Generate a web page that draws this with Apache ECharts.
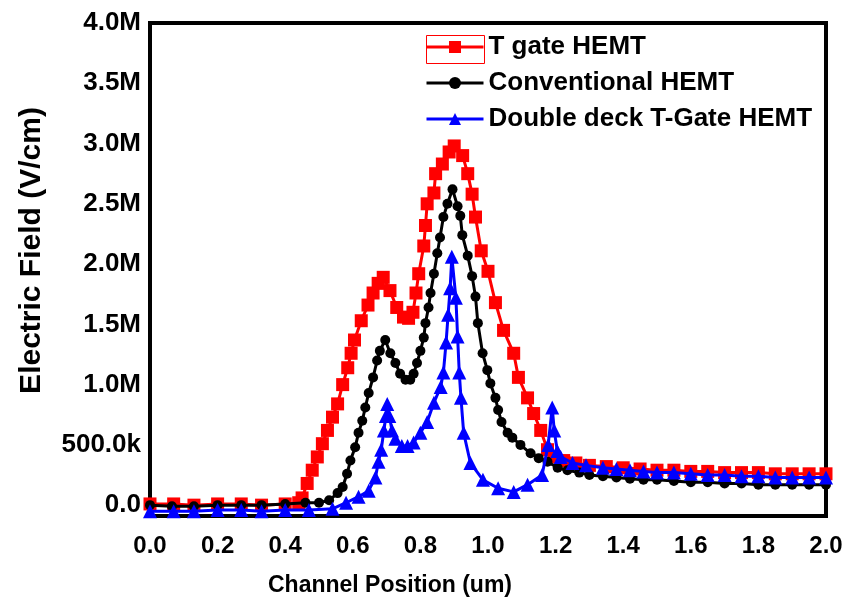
<!DOCTYPE html>
<html>
<head>
<meta charset="utf-8">
<script src="https://cdn.jsdelivr.net/npm/echarts@6/dist/echarts.min.js"></script>
<style>
  html, body { margin: 0; padding: 0; background: #fff; }
  #chart { width: 862px; height: 605px; }
</style>
</head>
<body>
<div id="chart"></div>
<script>
// Electric field along the channel (MV/cm) for three HEMT gate structures
const seriesNames = ['T gate HEMT', 'Conventional HEMT', 'Double deck T-Gate HEMT'];

// T gate HEMT
const tgateX = [0.00, 0.07, 0.13, 0.20, 0.27, 0.33, 0.40, 0.44,
  0.45, 0.465, 0.48, 0.495, 0.51, 0.525, 0.54, 0.555, 0.57, 0.585, 0.595, 0.605, 0.625, 0.645, 0.66, 0.675, 0.69,
  0.71, 0.73, 0.75, 0.765, 0.778, 0.787, 0.795, 0.81, 0.815, 0.82, 0.84, 0.845, 0.865, 0.885, 0.90,
  0.925, 0.94, 0.953, 0.963, 0.98, 1.00, 1.022, 1.046, 1.076, 1.09, 1.117, 1.135, 1.156, 1.176, 1.195, 1.224,
  1.26, 1.30, 1.35, 1.40, 1.45, 1.50, 1.55, 1.60, 1.65, 1.70, 1.75, 1.80, 1.85, 1.90, 1.95, 2.00];
const tgateE = [0.01, 0.01, 0.00, 0.01, 0.01, 0.00, 0.01, 0.02,
  0.06, 0.18, 0.29, 0.40, 0.51, 0.62, 0.73, 0.84, 1.00, 1.14, 1.26, 1.37, 1.53, 1.66, 1.76, 1.84, 1.89,
  1.78, 1.64, 1.56, 1.55, 1.60, 1.76, 1.92, 2.15, 2.32, 2.50, 2.59, 2.75, 2.83, 2.93, 2.98,
  2.90, 2.75, 2.58, 2.39, 2.11, 1.94, 1.68, 1.45, 1.26, 1.06, 0.89, 0.76, 0.62, 0.46, 0.40, 0.37,
  0.35, 0.33, 0.32, 0.31, 0.30, 0.29, 0.29, 0.28, 0.28, 0.27, 0.27, 0.27, 0.26, 0.26, 0.26, 0.26];

// Conventional HEMT
const convX = [0.00, 0.065, 0.13, 0.20, 0.27, 0.33, 0.40, 0.46, 0.50, 0.53,
  0.555, 0.57, 0.583, 0.593, 0.607, 0.617, 0.628, 0.637, 0.647, 0.66, 0.672, 0.68, 0.696,
  0.711, 0.726, 0.74, 0.756, 0.77, 0.78, 0.79, 0.80, 0.81, 0.815, 0.824, 0.83, 0.84, 0.85, 0.858, 0.868, 0.88, 0.895,
  0.91, 0.918, 0.924, 0.94, 0.953, 0.963, 0.97, 0.984, 0.998, 1.007, 1.022, 1.03, 1.04, 1.058, 1.072, 1.096, 1.126, 1.15, 1.176, 1.206, 1.235,
  1.27, 1.30, 1.34, 1.38, 1.42, 1.46, 1.50, 1.55, 1.60, 1.65, 1.70, 1.75, 1.80, 1.85, 1.90, 1.95, 2.00];
const convE = [0.00, -0.01, -0.01, 0.00, 0.00, 0.00, 0.01, 0.02, 0.02, 0.04,
  0.10, 0.15, 0.26, 0.37, 0.48, 0.60, 0.70, 0.81, 0.93, 1.06, 1.20, 1.28, 1.37,
  1.26, 1.18, 1.09, 1.04, 1.04, 1.09, 1.18, 1.28, 1.39, 1.51, 1.64, 1.76, 1.92, 2.09, 2.22, 2.39, 2.50, 2.62,
  2.48, 2.40, 2.24, 2.07, 1.90, 1.73, 1.51, 1.26, 1.12, 1.01, 0.89, 0.79, 0.69, 0.60, 0.56, 0.50, 0.43, 0.39, 0.36, 0.31, 0.29,
  0.27, 0.25, 0.24, 0.23, 0.22, 0.21, 0.21, 0.20, 0.19, 0.19, 0.18, 0.18, 0.17, 0.17, 0.17, 0.17, 0.17];

// Double deck T-Gate HEMT
const ddX = [0.00, 0.07, 0.13, 0.20, 0.27, 0.33, 0.40, 0.47, 0.54,
  0.58, 0.617, 0.647, 0.667, 0.676, 0.684, 0.692, 0.698, 0.702,
  0.708, 0.716, 0.726, 0.745, 0.762, 0.78, 0.80, 0.82, 0.84, 0.86, 0.868, 0.876, 0.882, 0.888, 0.893,
  0.905, 0.91, 0.915, 0.92, 0.928, 0.948, 0.985, 1.03, 1.076, 1.117, 1.16, 1.178, 1.19,
  1.196, 1.205, 1.215, 1.25, 1.29, 1.34, 1.38, 1.42, 1.46, 1.50, 1.55, 1.60, 1.65, 1.70, 1.75, 1.80, 1.85, 1.90, 1.95, 2.00];
const ddE = [-0.05, -0.05, -0.05, -0.04, -0.04, -0.05, -0.04, -0.04, -0.03,
  0.02, 0.07, 0.12, 0.23, 0.36, 0.46, 0.62, 0.74, 0.84,
  0.74, 0.62, 0.55, 0.49, 0.49, 0.52, 0.60, 0.69, 0.85, 0.98, 1.10, 1.35, 1.58, 1.80, 2.06,
  1.72, 1.40, 1.10, 0.89, 0.60, 0.35, 0.21, 0.14, 0.11, 0.17, 0.25, 0.50, 0.81,
  0.62, 0.45, 0.40, 0.35, 0.33, 0.31, 0.30, 0.29, 0.28, 0.27, 0.27, 0.26, 0.25, 0.25, 0.24, 0.24, 0.23, 0.23, 0.23, 0.23];

// Value-axis labels (MV/cm)
const yTicks = [0, 0.5, 1.0, 1.5, 2.0, 2.5, 3.0, 3.5, 4.0];

const zip = (xs, ys) => xs.map((x, i) => [x, ys[i]]);

const FONT = '"Liberation Sans", Arial, sans-serif';
const NARROW = '"Liberation Sans Narrow", "Arial Narrow", "Liberation Sans", Arial, sans-serif';

const fmtField = v => {
  if (Math.abs(v) < 1e-9) return '0.0';
  if (v < 1) return (v * 1000).toFixed(1) + 'k';
  return v.toFixed(1) + 'M';
};

const chart = echarts.init(document.getElementById('chart'), null, { renderer: 'canvas' });

chart.setOption({
  animation: false,
  backgroundColor: '#ffffff',
  grid: {
    left: 150, right: 36, top: 23, bottom: 89,
    show: true, borderColor: '#000', borderWidth: 4, backgroundColor: 'transparent'
  },
  legend: {
    orient: 'vertical',
    left: 420, top: 29,
    itemWidth: 57, itemHeight: 15, itemGap: 10,
    lineStyle: { width: 3 },
    textStyle: { fontFamily: FONT, fontWeight: 'bold', fontSize: 26, color: '#000' },
    data: seriesNames
  },
  xAxis: {
    type: 'value', min: 0, max: 2, interval: 0.2,
    name: 'Channel Position (um)', nameLocation: 'middle', nameGap: 58,
    nameTextStyle: { fontFamily: NARROW, fontWeight: 'bold', fontSize: 23, color: '#000', padding: [0, 196, 0, 0] },
    axisLine: { show: true, onZero: false, lineStyle: { color: '#000', width: 4 } },
    axisTick: { show: false },
    splitLine: { show: false },
    axisLabel: {
      margin: 18, fontFamily: NARROW, fontWeight: 'bold', fontSize: 24, color: '#000',
      formatter: v => v.toFixed(1)
    }
  },
  yAxis: {
    type: 'value', min: -0.09, max: 4.0,
    name: 'Electric Field (V/cm)', nameLocation: 'middle', nameGap: 103, nameRotate: 90,
    nameTextStyle: { fontFamily: FONT, fontWeight: 'bold', fontSize: 30, color: '#000', padding: [0, 0, 0, 38] },
    axisLine: { show: true, onZero: false, lineStyle: { color: '#000', width: 4 } },
    axisTick: { show: false },
    splitLine: { show: false },
    axisLabel: {
      margin: 9, fontFamily: FONT, fontWeight: 'bold', fontSize: 26, color: '#000',
      customValues: yTicks,
      formatter: fmtField
    }
  },
  series: [
    {
      name: seriesNames[0], type: 'line', data: zip(tgateX, tgateE),
      symbol: 'rect', symbolSize: 13, showAllSymbol: true,
      lineStyle: { color: '#ff0000', width: 3 },
      itemStyle: { color: '#ff0000' }, z: 2
    },
    {
      name: seriesNames[1], type: 'line', data: zip(convX, convE),
      symbol: 'circle', symbolSize: 10, showAllSymbol: true,
      lineStyle: { color: '#000000', width: 3 },
      itemStyle: { color: '#000000' }, z: 3
    },
    {
      name: seriesNames[2], type: 'line', data: zip(ddX, ddE),
      symbol: 'triangle', symbolSize: 14, showAllSymbol: true,
      lineStyle: { color: '#0000ff', width: 3 },
      itemStyle: { color: '#0000ff' }, z: 4
    }
  ],
  graphic: [
    {
      type: 'rect', left: 424, top: 33, z: 100,
      shape: { width: 58, height: 28 },
      style: { fill: 'none', stroke: '#ff0000', lineWidth: 1 }
    }
  ]
});
</script>
</body>
</html>
